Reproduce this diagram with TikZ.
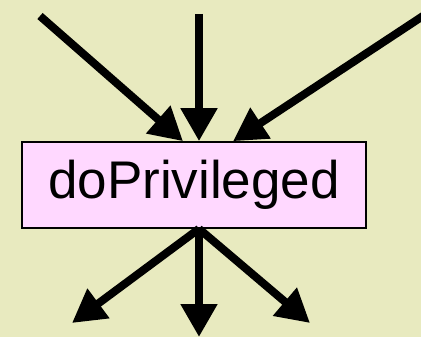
\documentclass[tikz,border=0pt]{standalone}
\usepackage{fontspec}
\setmainfont{Liberation Sans}
\usetikzlibrary{arrows.meta}
\definecolor{paper}{RGB}{232,234,191}
\definecolor{lilac}{RGB}{255,216,255}

\begin{document}
\begin{tikzpicture}[x=1pt,y=-1pt,
    flow/.style={line width=8pt,-{Triangle[length=33pt,width=35pt]}},
    callbox/.style={draw=black,line width=1.6pt,fill=lilac,minimum width=344pt,minimum height=86pt,inner sep=0pt,font=\fontsize{53}{60}\selectfont}]
\fill[paper] (0,0) rectangle (421,337);
\useasboundingbox (0,0) rectangle (421,337);
% the privileged call
\node[callbox] (priv) at (194,185) {doPrivileged};
% callers
\coordinate (inL) at (40,16);
\coordinate (inM) at (199,14);
\coordinate (inR) at (426,14);
% callees
\coordinate (outL) at (72,323);
\coordinate (outM) at (199,337);
\coordinate (outR) at (310,323);
\draw[flow] (inL) to ([xshift=-11pt]priv.north);
\draw[flow] (inM) to ([xshift=5pt]priv.north);
\draw[flow] (inR) to ([xshift=39pt]priv.north);
\draw[flow] ([xshift=5pt]priv.south) to (outL);
\draw[flow] ([xshift=5pt]priv.south) to (outM);
\draw[flow] ([xshift=5pt]priv.south) to (outR);
\end{tikzpicture}
\end{document}
